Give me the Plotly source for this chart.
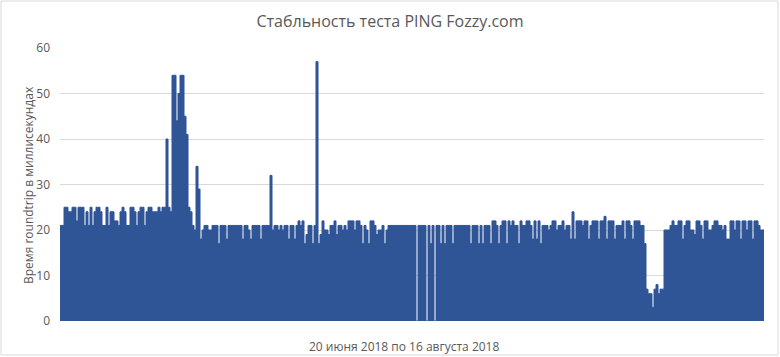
import plotly.graph_objects as go

chart_title = "Стабльность теста PING Fozzy.com"
y_axis_title = "Время roundtrip в миллисекундах"
x_axis_title = "20 июня 2018 по 16 августа 2018"
y_tick_values = [0, 10, 20, 30, 40, 50, 60]
grid_values = [10, 20, 30, 40, 50]

# roundtrip time samples (ms), read left to right across the chart
ping_part1 = [
    21, 21, 25, 25, 24, 24, 25, 25, 22, 25, 25, 25, 21, 24, 21, 25, 21, 24, 25, 25,
    24, 21, 21, 25, 21, 24, 24, 22, 22, 21, 24, 25, 24, 21, 21, 25, 25, 24, 21, 24,
    25, 25, 21, 24, 25, 25, 24, 24, 24, 25, 24, 25, 25, 40, 25, 24, 54, 54, 44, 50,
    54, 54, 45, 41, 25, 24, 21, 20, 34, 29, 18, 20, 21, 21, 20, 20, 21, 21, 21, 17,
]
ping_part2 = [
    21, 21, 21, 18, 21, 21, 21, 21, 21, 21, 21, 18, 21, 21, 20, 18, 21, 21, 21, 21,
    18, 21, 21, 21, 21, 32, 20, 21, 21, 20, 21, 20, 21, 21, 18, 21, 21, 18, 21, 22,
    21, 22, 17, 19, 21, 21, 17, 21, 57, 17, 19, 22, 20, 20, 19, 21, 21, 22, 19, 21,
    21, 20, 21, 20, 22, 22, 22, 20, 22, 22, 21, 17, 21, 20, 17, 22, 22, 21, 19, 20,
]
ping_part3 = [
    20, 21, 17, 20, 21, 21, 21, 21, 21, 21, 21, 21, 21, 21, 21, 21, 21, 21, 0, 21,
    21, 21, 21, 0, 21, 17, 21, 0, 21, 21, 17, 21, 17, 21, 21, 21, 17, 21, 21, 21,
    21, 21, 21, 21, 21, 17, 21, 21, 21, 17, 21, 17, 21, 21, 21, 17, 22, 22, 21, 17,
    21, 22, 22, 17, 22, 21, 22, 21, 21, 17, 22, 21, 21, 22, 22, 21, 18, 22, 18, 22,
]
ping_part4 = [
    17, 21, 21, 21, 20, 21, 22, 22, 20, 21, 21, 22, 20, 21, 21, 18, 24, 18, 22, 22,
    22, 21, 22, 22, 18, 21, 22, 22, 22, 18, 22, 22, 23, 18, 22, 22, 22, 18, 21, 21,
    21, 22, 18, 22, 22, 21, 18, 22, 22, 22, 21, 21, 17, 7, 6, 6, 3, 7, 8, 6,
    7, 7, 20, 20, 20, 21, 22, 21, 21, 22, 22, 18, 21, 22, 22, 20, 20, 19, 22, 22,
]
ping_part5 = [
    21, 18, 22, 22, 20, 20, 21, 22, 22, 21, 21, 20, 21, 18, 18, 22, 22, 20, 22, 22,
    18, 22, 22, 20, 22, 22, 18, 22, 22, 21, 20, 20,
]

ping_ms = ping_part1 + ping_part2 + ping_part3 + ping_part4 + ping_part5
n = len(ping_ms)

x_vals = list(range(n + 1))
y_vals = ping_ms + [ping_ms[-1]]

bar_color = "#2F5597"
text_color = "#595959"
grid_color = "#D9D9D9"
font_family = "Open Sans"

fig = go.Figure()
fig.add_trace(go.Scatter(
    x=x_vals, y=y_vals, mode="lines",
    line=dict(shape="hv", color=bar_color, width=1),
    fill="tozeroy", fillcolor=bar_color,
    hoverinfo="skip", showlegend=False,
))

W, H = 780, 357
ml, mr, mt, mb = 60, 16, 48, 36
pw, ph = W - ml - mr, H - mt - mb

shapes = [
    # outer chart border
    dict(type="rect", xref="paper", yref="paper",
         x0=(1 - ml) / pw, x1=(778 - ml) / pw,
         y0=(H - mb - 355) / ph, y1=(H - mb - 1) / ph,
         line=dict(color=grid_color, width=1), layer="below"),
]

fig.update_layout(
    width=W, height=H,
    margin=dict(l=ml, r=mr, t=mt, b=mb),
    paper_bgcolor="white", plot_bgcolor="white",
    font=dict(family=font_family, color=text_color),
    title=dict(text=chart_title, x=0.5, xref="container", xanchor="center",
               y=1 - 21 / H, yref="container", yanchor="middle",
               font=dict(family=font_family, size=16, color=text_color)),
    xaxis=dict(range=[0, n], showgrid=False, zeroline=False, showticklabels=False,
               ticks="", showline=True, linecolor="white", linewidth=6),
    yaxis=dict(range=[0, 60], tickvals=y_tick_values, showgrid=False, zeroline=False,
               ticks="", showline=False, ticklabelstandoff=9,
               tickfont=dict(family=font_family, size=12, color=text_color),
               minor=dict(tickmode="array", tickvals=grid_values, showgrid=True,
                          gridcolor=grid_color, gridwidth=1, ticks="")),
    shapes=shapes,
    annotations=[
        dict(text=y_axis_title, textangle=-90, xref="paper", yref="paper",
             x=(28 - ml) / pw, y=(H - mb - 185) / ph, xanchor="center", yanchor="middle",
             showarrow=False, font=dict(family=font_family, size=12, color=text_color)),
        dict(text=x_axis_title, xref="paper", yref="paper",
             x=(404 - ml) / pw, y=(H - mb - 346) / ph, xanchor="center", yanchor="middle",
             showarrow=False, font=dict(family=font_family, size=12, color=text_color)),
    ],
)

fig.write_html("out.html", config={"displayModeBar": False},
               post_script="document.body.style.margin='0';")
